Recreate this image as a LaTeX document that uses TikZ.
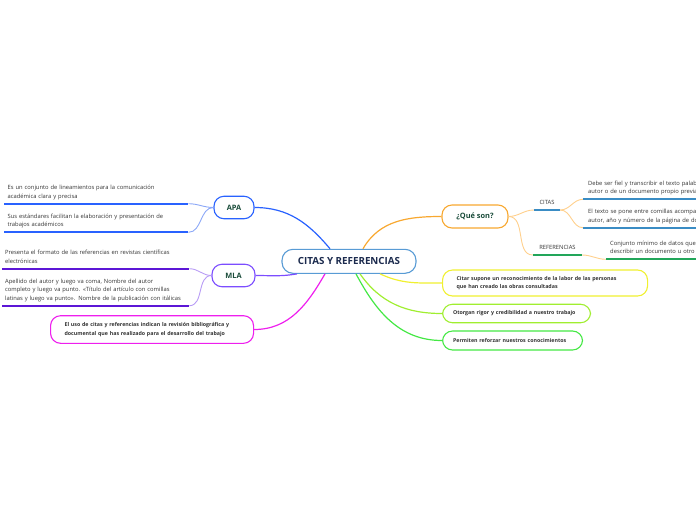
\documentclass[tikz,border=0pt]{standalone}
\usepackage{fontspec}
\setmainfont{Open Sans}
\usetikzlibrary{positioning}
\definecolor{navy}{RGB}{28,43,78}
\definecolor{darkgreen}{RGB}{26,76,58}
\definecolor{textgrey}{RGB}{51,51,51}
\definecolor{rootblue}{RGB}{88,155,213}
\definecolor{apablue}{RGB}{41,98,255}
\definecolor{apalight}{RGB}{140,168,247}
\definecolor{mlapurple}{RGB}{124,77,255}
\definecolor{mladeep}{RGB}{92,22,214}
\definecolor{mlalight}{RGB}{184,156,245}
\definecolor{queorange}{RGB}{248,168,48}
\definecolor{quelight}{RGB}{255,208,140}
\definecolor{citasblue}{RGB}{58,140,196}
\definecolor{refgreen}{RGB}{34,166,90}
\definecolor{pinkline}{RGB}{238,31,238}
\definecolor{yellowline}{RGB}{240,240,48}
\definecolor{limeline}{RGB}{160,238,48}
\definecolor{greenline}{RGB}{68,232,68}
\tikzstyle{rootbox}=[rectangle, rounded corners=11pt, draw=rootblue,
  line width=1.1pt, fill=white, font=\fontsize{9.8}{11}\selectfont\bfseries,
  text=navy, minimum width=134pt, minimum height=24pt]
\tikzstyle{topic}=[rectangle, rounded corners=10pt, line width=1.1pt,
  fill=white, font=\fontsize{7.4}{8}\selectfont\bfseries, text=darkgreen,
  minimum height=22.5pt]
\tikzstyle{fact}=[rectangle, rounded corners=10pt, line width=1.1pt,
  fill=white, font=\fontsize{5.3}{8.4}\selectfont\bfseries, text=textgrey,
  align=left, anchor=west]
\tikzstyle{leaf}=[inner xsep=4pt, inner ysep=2.8pt,
  font=\fontsize{5.8}{8.4}\selectfont, text=textgrey, align=left,
  execute at end node=\strut]
\tikzstyle{link}=[line width=1.2pt]
\tikzstyle{twig}=[line width=0.9pt]
\tikzstyle{uline}=[line width=1.7pt]

\begin{document}
\begin{tikzpicture}[x=1pt, y=1pt]
        \useasboundingbox (0,0) rectangle (696,-520);
        \clip (0,0) rectangle (696,-520);
        % centre and main topics
        \node[rootbox] (c0) at (349,-261.3) {CITAS Y REFERENCIAS};
        \node[topic, draw=apablue, minimum width=40pt] (a1) at (234,-207.5) {APA};
        \node[topic, draw=mlapurple, minimum width=43pt] (a2) at (233.5,-275.5) {MLA};
        \node[topic, draw=queorange, minimum width=66pt, minimum height=23pt] (q)
          at (475,-216.5) {¿Qué son?};
        % boxed statements
        \node[fact, draw=pinkline, text width=175pt, inner xsep=14pt,
          minimum height=27.6pt] (f0) at (50,-329.5)
          {El uso de citas y referencias indican la revisión bibliográfica y\\
           documental que has realizado para el desarrollo del trabajo};
        \node[fact, draw=yellowline, text width=177pt, inner xsep=14pt,
          minimum height=26pt] (f1) at (442,-283)
          {Citar supone un reconocimiento de la labor de las personas\\
           que han creado las obras consultadas};
        \node[fact, draw=limeline, text width=127pt, inner xsep=10.5pt,
          minimum height=18.5pt] (f2) at (442,-313.5)
          {Otorgan rigor y credibilidad a nuestro trabajo};
        \node[fact, draw=greenline, text width=119pt, inner xsep=10.5pt,
          minimum height=19pt] (f3) at (442,-340.5)
          {Permiten reforzar nuestros conocimientos};
        % left leaves
        \node[leaf, text width=177pt, inner xsep=3.5pt, anchor=south west] (t1)
          at (4,-203.7)
          {Es un conjunto de lineamientos para la comunicación\\
           académica clara y precisa};
        \node[leaf, text width=177pt, inner xsep=3.5pt, anchor=south west] (t2)
          at (4,-232.3)
          {Sus estándares facilitan la elaboración y presentación de\\
           trabajos académicos};
        \node[leaf, text width=181pt, inner xsep=3pt, anchor=south west] (t3)
          at (2,-268.7)
          {Presenta el formato de las referencias en revistas científicas\\
           electrónicas};
        \node[leaf, text width=181pt, inner xsep=3pt, anchor=south west] (t4)
          at (2,-305.7)
          {Apellido del autor y luego va coma, Nombre del autor\\
           completo y luego va punto. «Título del artículo con comillas\\
           latinas y luego va punto». Nombre de la publicación con itálicas};
        % right leaves
        \node[leaf, minimum width=26pt, anchor=south] (r1) at (547,-210) {CITAS};
        \node[leaf, minimum width=49pt, anchor=south] (r2) at (557.5,-255) {REFERENCIAS};
        \node[leaf, text width=150pt, inner xsep=5pt, anchor=south west] (r3)
          at (583,-199.3)
          {Debe ser fiel y transcribir el texto palabra\\
           autor o de un documento propio previamente};
        \node[leaf, text width=150pt, inner xsep=5pt, anchor=south west] (r4)
          at (583,-227.7)
          {El texto se pone entre comillas acompañado del\\
           autor, año y número de la página de documento};
        \node[leaf, text width=150pt, anchor=south west] (r5) at (606,-259.3)
          {Conjunto mínimo de datos que\\
           describir un documento u otro};
        % branches from the centre
        \draw[link, apablue] ([xshift=-19pt]c0.north) to[out=130,in=0] (a1.east);
        \draw[link, queorange] ([xshift=14pt]c0.north) to[out=60,in=180] (q.west);
        \draw[link, mlapurple] ([xshift=-52pt]c0.south) to[out=190,in=0] (a2.east);
        \draw[link, pinkline] ([xshift=-24pt]c0.south) to[out=-120,in=0] (f0.east);
        \draw[link, yellowline] ([xshift=31pt]c0.south) to[out=-25,in=180] (f1.west);
        \draw[link, limeline] ([xshift=11pt]c0.south) to[out=-55,in=180] (f2.west);
        \draw[link, greenline] ([xshift=7pt]c0.south) to[out=-62,in=180] (f3.west);
        % twigs to the leaves
        \draw[twig, apalight] (a1.west) to[out=180,in=0] (t1.south east);
        \draw[twig, apalight] (a1.west) to[out=180,in=0] (t2.south east);
        \draw[twig, mlalight] (a2.west) to[out=180,in=0] (t3.south east);
        \draw[twig, mlalight] (a2.west) to[out=180,in=0] (t4.south east);
        \draw[twig, quelight] (q.east) to[out=0,in=180] (r1.south west);
        \draw[twig, quelight] (q.east) to[out=0,in=180] (r2.south west);
        \draw[twig, quelight] (r1.south east) to[out=0,in=180] (r3.south west);
        \draw[twig, quelight] (r1.south east) to[out=0,in=180] (r4.south west);
        \draw[twig, quelight] (r2.south east) to[out=0,in=180] (r5.south west);
        % underlines
        \draw[uline, apablue] (t1.south west) -- (t1.south east);
        \draw[uline, apablue] (t2.south west) -- (t2.south east);
        \draw[uline, mladeep] (t3.south west) -- (t3.south east);
        \draw[uline, mladeep] (t4.south west) -- (t4.south east);
        \draw[uline, citasblue] (r1.south west) -- (r1.south east);
        \draw[uline, refgreen] (r2.south west) -- (r2.south east);
        \draw[uline, citasblue] (r3.south west) -- (r3.south east);
        \draw[uline, citasblue] (r4.south west) -- (r4.south east);
        \draw[uline, refgreen] (r5.south west) -- (r5.south east);
      \end{tikzpicture}
\end{document}
